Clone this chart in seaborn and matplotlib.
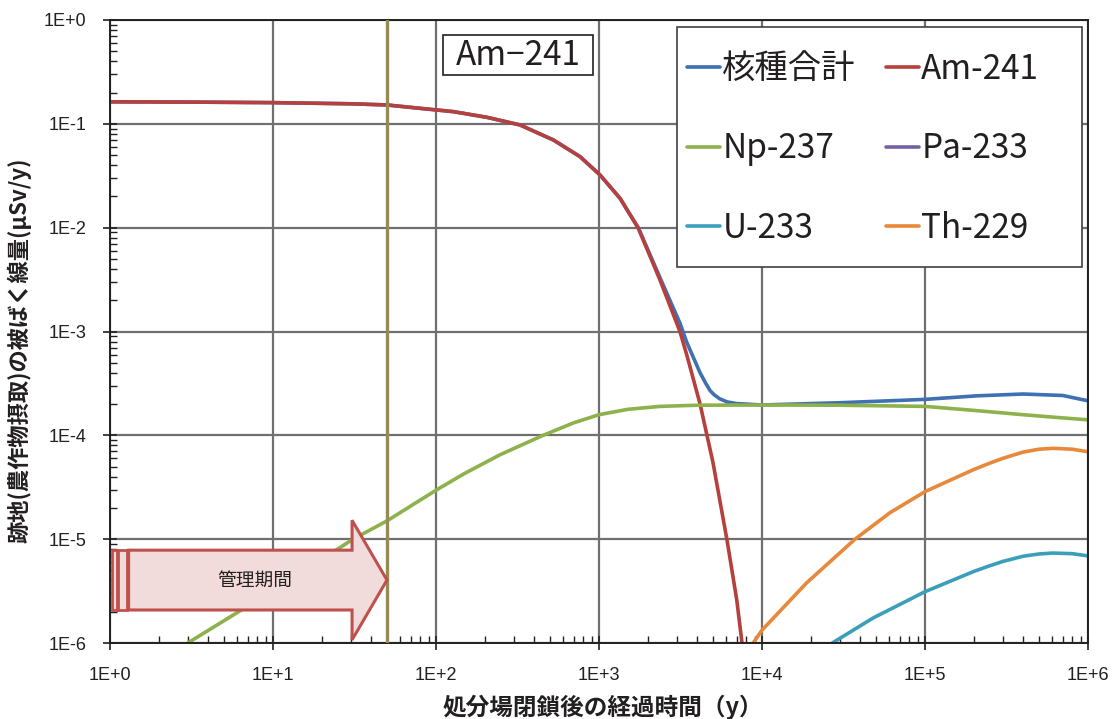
import numpy as np
import pandas as pd
import matplotlib
matplotlib.use('Agg')
import matplotlib.pyplot as plt
import matplotlib.ticker as mticker
from matplotlib.patches import Polygon, Rectangle
from matplotlib.lines import Line2D
import seaborn as sns

# values (years after closure, dose in uSv/y)
t_total = [1, 3, 10, 30, 50, 80, 128, 205, 328, 525, 765, 1014, 1345, 1742, 2367, 3140,
           3450, 4170, 4500, 4800, 5100, 5500, 6100, 7000, 8000, 1e4, 3e4, 1e5, 2.07e5, 4e5,
           7e5, 1e6]
d_total = [0.163, 0.162, 0.160, 0.156, 0.152, 0.141, 0.131, 0.1156, 0.0975, 0.0699, 0.0483,
           0.0322, 0.0192, 0.0100, 3.3e-3, 1.2e-3, 7.9e-4, 4.0e-4, 3.2e-4, 2.7e-4, 2.45e-4,
           2.25e-4, 2.1e-4, 2.02e-4, 2.0e-4, 1.96e-4, 2.06e-4, 2.22e-4, 2.4e-4, 2.5e-4,
           2.42e-4, 2.15e-4]

t_am241 = [1, 3, 10, 30, 50, 80, 128, 205, 328, 525, 765, 1014, 1345, 1742, 2367, 3140,
           3450, 4170, 5000, 6100, 7000, 7540, 8000]
d_am241 = [0.163, 0.162, 0.160, 0.156, 0.152, 0.141, 0.131, 0.1156, 0.0975, 0.0699, 0.0483,
           0.0322, 0.0192, 0.00986, 3.13e-3, 9.95e-4, 6.0e-4, 2.0e-4, 5.5e-5, 9.8e-6, 2.6e-6,
           1.0e-6, 4.0e-7]

t_np237 = [3, 10, 31, 50, 100, 150, 247, 454, 700, 1000, 1500, 2370, 4000, 1e4, 3e4, 1e5,
           2.07e5, 4e5, 6e5, 1e6]
d_np237 = [1.0e-6, 3.2e-6, 1.0e-5, 1.5e-5, 2.96e-5, 4.3e-5, 6.5e-5, 1.0e-4, 1.32e-4, 1.58e-4,
           1.78e-4, 1.9e-4, 1.95e-4, 1.96e-4, 1.95e-4, 1.9e-4, 1.73e-4, 1.58e-4, 1.5e-4,
           1.41e-4]

# Pa-233 stays below the plotted range, so only its legend entry shows
t_pa233 = []
d_pa233 = []

t_u233 = [2.7e4, 4.8e4, 1e5, 2e5, 2.5e5, 3e5, 4e5, 5e5, 6.1e5, 8e5, 1e6]
d_u233 = [1.0e-6, 1.74e-6, 3.12e-6, 4.9e-6, 5.55e-6, 6.1e-6, 6.85e-6, 7.2e-6, 7.35e-6,
          7.25e-6, 6.9e-6]

t_th229 = [8830, 1e4, 1.88e4, 3.72e4, 6.1e4, 1e5, 2e5, 2.5e5, 3e5, 4e5, 5e5, 6.1e5, 8e5, 1e6]
d_th229 = [1.0e-6, 1.33e-6, 3.8e-6, 1.0e-5, 1.8e-5, 2.87e-5, 4.7e-5, 5.4e-5, 6.0e-5, 6.9e-5,
           7.35e-5, 7.5e-5, 7.35e-5, 6.95e-5]

x_decades = [1, 1e1, 1e2, 1e3, 1e4, 1e5, 1e6]
y_decades = [1e-6, 1e-5, 1e-4, 1e-3, 1e-2, 1e-1, 1]

names = ['核種合計', 'Am-241', 'Np-237', 'Pa-233', 'U-233', 'Th-229']
colors = ['#3f70b2', '#b6403d', '#8db24c', '#7461a3', '#3b9fba', '#e8883a']
series = [(t_total, d_total), (t_am241, d_am241), (t_np237, d_np237),
          (t_pa233, d_pa233), (t_u233, d_u233), (t_th229, d_th229)]

frames = []
for nm, (t, d) in zip(names, series):
    frames.append(pd.DataFrame({'t': t, 'dose': d, 'nuclide': nm}))
df = pd.concat([f for f in frames if len(f)], ignore_index=True)

sns.set_style('ticks')
plt.rcParams['font.family'] = ['Noto Sans CJK JP', 'DejaVu Sans']

fig = plt.figure(figsize=(11.13, 7.19), dpi=100)
ax = fig.add_axes([110 / 1113, 76 / 719, 978 / 1113, 623 / 719])

plot_order = [n for n in names if n in df['nuclide'].unique()]
palette = dict(zip(names, colors))
sns.lineplot(data=df, x='t', y='dose', hue='nuclide', hue_order=plot_order,
             palette=palette, estimator=None, sort=False, lw=2.6, legend=False, ax=ax)

ax.set_xscale('log')
ax.set_yscale('log')
ax.set_xlim(x_decades[0], x_decades[-1])
ax.set_ylim(y_decades[0], y_decades[-1])

fmt = mticker.FuncFormatter(lambda v, p: '1E%+d' % int(round(np.log10(v))))
for axis, dec in [(ax.xaxis, x_decades), (ax.yaxis, y_decades)]:
    axis.set_major_locator(mticker.FixedLocator(dec))
    axis.set_major_formatter(fmt)
    minors = [d * k for d in dec[:-1] for k in range(2, 10)]
    axis.set_minor_locator(mticker.FixedLocator(minors))
    axis.set_minor_formatter(mticker.NullFormatter())
ax.tick_params(which='major', direction='inout', length=10, width=1.2, labelsize=13,
               labelfontfamily='Liberation Sans', colors='#231f20')
ax.tick_params(axis='x', which='major', pad=12)
ax.tick_params(axis='y', which='major', pad=12)
ax.tick_params(which='minor', direction='in', length=5, width=1.0, color='#231f20')

ax.grid(which='major', color='#6f6f6f', lw=1.6)
for s in ax.spines.values():
    s.set_color('#231f20')
    s.set_linewidth(1.4)

ax.set_xlabel('処分場閉鎖後の経過時間（y）', fontsize=17, fontweight='bold', color='#231f20')
ax.set_ylabel('跡地(農作物摂取)の被ばく線量(μSv/y)', fontsize=16, fontweight='bold',
              color='#231f20')
ax.xaxis.set_label_coords(0.504, -0.083)
ax.yaxis.set_label_coords(-0.08, 0.47)

# closure management period
ax.axvline(50, color='#958b55', lw=2.4, zorder=3)
arrow = Polygon([(0.019, 0.053), (0.2475, 0.053), (0.2475, 0.005), (0.2832, 0.101),
                 (0.2475, 0.197), (0.2475, 0.149), (0.019, 0.149)],
                closed=True, transform=ax.transAxes, facecolor='#f2dcdb',
                edgecolor='#c0504d', lw=2.2, zorder=4)
ax.add_patch(arrow)
for x0, w in [(0.0017, 0.0051), (0.0085, 0.0092)]:
    ax.add_patch(Rectangle((x0, 0.053), w, 0.096, transform=ax.transAxes,
                           facecolor='#f2dcdb', edgecolor='#c0504d', lw=2.0, zorder=4))
ax.text(0.148, 0.101, '管理期間', transform=ax.transAxes, fontsize=13.5,
        ha='center', va='center', color='#231f20', zorder=5)

# nuclide label box
ax.add_patch(Rectangle((0.3405, 0.9117), 0.1534, 0.0642, transform=ax.transAxes,
                       facecolor='white', edgecolor='#231f20', lw=1.2, zorder=6))
ax.text(0.4172, 0.9438, 'Am−241', transform=ax.transAxes, fontsize=24, ha='center',
        va='center', color='#231f20', zorder=7)

# legend with its own frame
fig.patches.append(Rectangle((677 / 1113, (719 - 267) / 719), 405 / 1113, 240 / 719,
                             transform=fig.transFigure, facecolor='white',
                             edgecolor='#404040', lw=1.2, zorder=5))
handles = [Line2D([], [], color=c, lw=2.6) for c in colors]
order = [0, 2, 4, 1, 3, 5]
leg = fig.legend([handles[i] for i in order], [names[i] for i in order], ncol=2,
                 loc='upper left', bbox_to_anchor=(687 / 1113, (719 - 52) / 719),
                 fontsize=24, frameon=False, handlelength=1.0, handletextpad=0.06,
                 columnspacing=0.9, labelspacing=1.33, borderpad=0, borderaxespad=0)
leg.set_zorder(8)
for tx in leg.get_texts():
    tx.set_color('#231f20')

fig.savefig('out.png', dpi=100)
